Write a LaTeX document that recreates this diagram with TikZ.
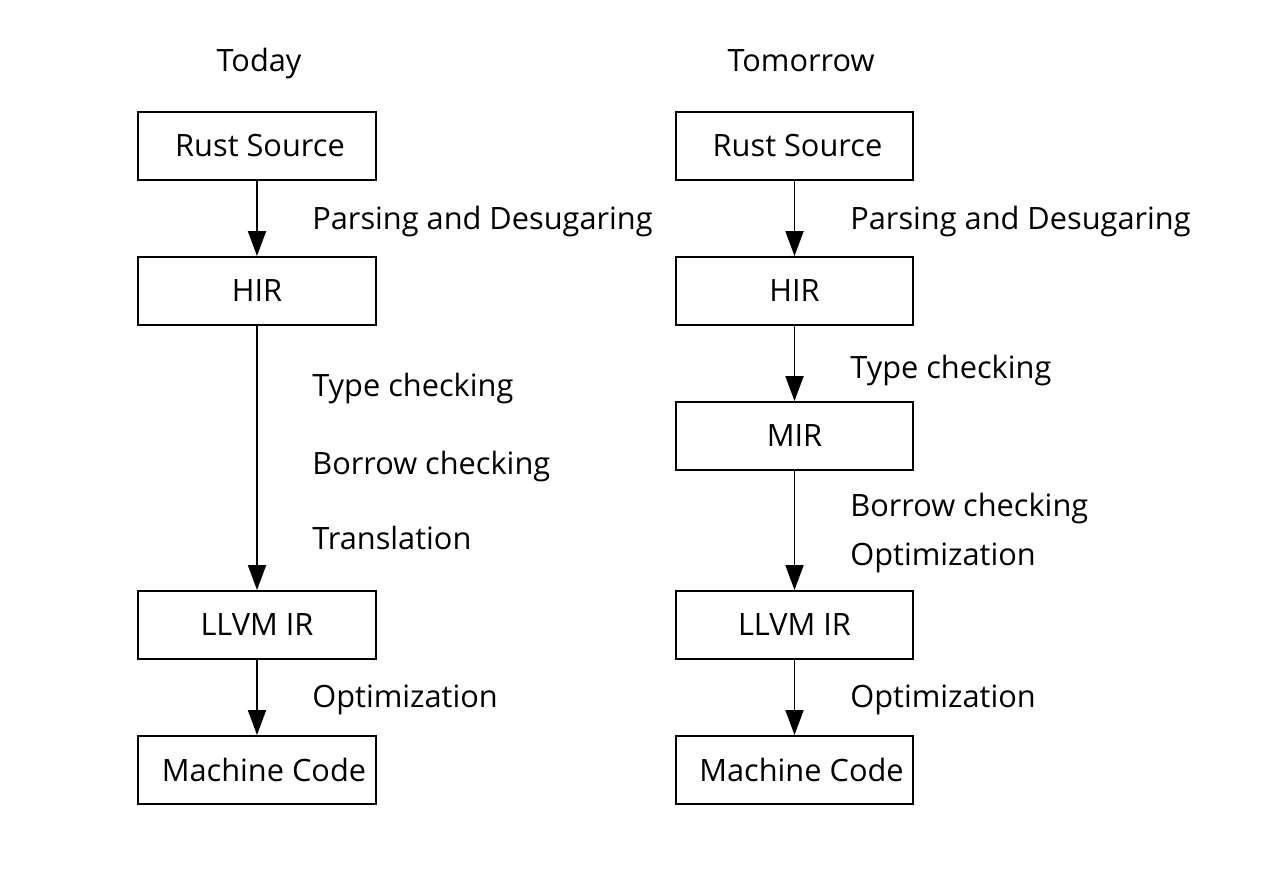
\documentclass[tikz,border=0pt]{standalone}
\usepackage{fontspec}
\setmainfont{Open Sans}
\usetikzlibrary{arrows.meta, positioning}

\begin{document}
\begin{tikzpicture}
\tikzset{
  stage/.style={draw, line width=1.1pt, minimum width=4.75cm, minimum height=1.36cm, inner sep=0pt, font=\fontsize{17.5}{21}\selectfont},
  pass/.style={anchor=west, inner sep=0pt, font=\fontsize{17.5}{21}\selectfont},
  title/.style={font=\fontsize{17.5}{21}\selectfont},
  flow/.style={line width=1.1pt, -{Triangle[length=0.5cm, width=0.36cm]}}
}

\useasboundingbox (0,0) rectangle (25.28,-17.78);

% today
\node[title] (today) at (5.18,-1.27) {Today};
\node[stage] (rustA) at (5.14,-2.92) {\hspace{0.12cm}Rust Source};
\node[stage] (hirA) at (5.14,-5.82) {HIR};
\node[stage] (llvmA) at (5.14,-12.5) {LLVM IR};
\node[stage] (machA) at (5.14,-15.4) {\hspace{0.28cm}Machine Code};

\draw[flow] (rustA) -- (hirA);
\draw[flow] (hirA) -- (llvmA);
\draw[flow] (llvmA) -- (machA);

\node[pass] (parseA) at (6.24,-4.43) {Parsing and Desugaring};
\node[pass] (typeA) at (6.24,-7.77) {Type checking};
\node[pass] (borrowA) at (6.24,-9.33) {Borrow checking};
\node[pass] (transA) at (6.24,-10.75) {Translation};
\node[pass] (optA) at (6.24,-14.0) {Optimization};

% tomorrow
\node[title] (tomorrow) at (16.02,-1.22) {Tomorrow};
\node[stage] (rustB) at (15.89,-2.92) {\hspace{0.12cm}Rust Source};
\node[stage] (hirB) at (15.89,-5.82) {HIR};
\node[stage] (mirB) at (15.89,-8.72) {MIR};
\node[stage] (llvmB) at (15.89,-12.5) {LLVM IR};
\node[stage] (machB) at (15.89,-15.4) {\hspace{0.28cm}Machine Code};

\draw[flow] (rustB) -- (hirB);
\draw[flow] (hirB) -- (mirB);
\draw[flow] (mirB) -- (llvmB);
\draw[flow] (llvmB) -- (machB);

\node[pass] (parseB) at (17.0,-4.43) {Parsing and Desugaring};
\node[pass] (typeB) at (17.0,-7.41) {Type checking};
\node[pass] (borrowB) at (17.0,-10.17) {Borrow checking};
\node[pass] (optB) at (17.0,-11.16) {Optimization};
\node[pass] (opt2B) at (17.0,-14.0) {Optimization};
\end{tikzpicture}
\end{document}
